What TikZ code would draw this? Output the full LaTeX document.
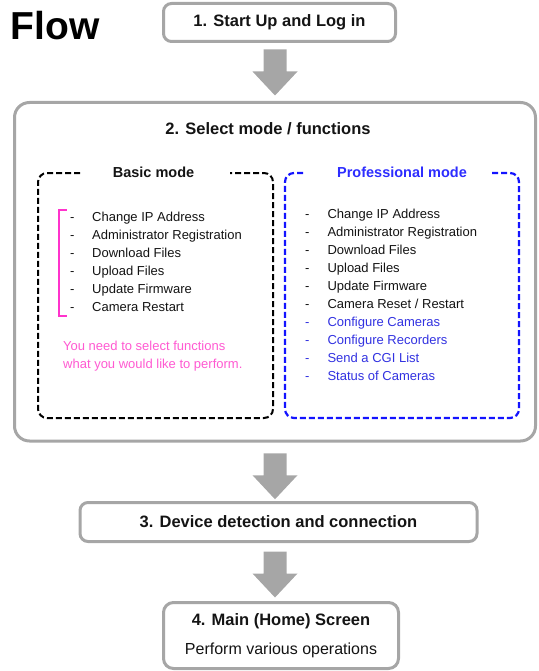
\documentclass[tikz,border=0pt]{standalone}
\usepackage{fontspec}
\setmainfont{Liberation Sans}
\usetikzlibrary{calc}
\definecolor{boxgray}{RGB}{166,166,166}
\definecolor{arrowgray}{RGB}{166,166,166}
\definecolor{probl}{RGB}{20,20,255}
\definecolor{protitle}{RGB}{45,45,255}
\definecolor{blueitem}{RGB}{50,50,225}
\definecolor{magline}{RGB}{255,51,204}
\definecolor{pinktxt}{RGB}{255,90,210}
\definecolor{txt}{RGB}{20,20,20}
\tikzset{
  graybox/.style={draw=boxgray, line width=3pt, rounded corners=8pt, fill=white, inner sep=0pt, text=txt},
  headtxt/.style={font=\bfseries\fontsize{16.5}{20}\selectfont},
  modetitle/.style={anchor=base, inner sep=0pt, font=\bfseries\fontsize{14.5}{17}\selectfont},
  itemtxt/.style={anchor=base west, inner sep=0pt, font=\fontsize{13}{15}\selectfont},
  basicdash/.style={draw=black, line width=2pt, dash pattern=on 6pt off 3pt, rounded corners=9pt},
  prodash/.style={draw=probl, line width=2.2pt, dash pattern=on 6pt off 3pt, rounded corners=9pt},
  pics/downarrow/.style={code={
    \fill[arrowgray] (-11.5,-23) -- (11.5,-23) -- (11.5,-1) -- (22.5,-1) -- (0,23) -- (-22.5,-1) -- (-11.5,-1) -- cycle;}}
}
\begin{document}
\begin{tikzpicture}[x=1pt,y=-1pt]
\useasboundingbox (0,0) rectangle (538,671);

% title
\node[anchor=base west, inner sep=0pt, font=\bfseries\fontsize{39}{42}\selectfont, text=black] (flow) at (10.5,40) {Flow};

% main boxes
\node[graybox, minimum width=232pt, minimum height=38pt, headtxt] (b1) at (279.5,22.5) {1. Start Up and Log in};
\node[graybox, rounded corners=15pt, minimum width=521pt, minimum height=338.5pt] (b2) at (275,271.75) {};
\node[anchor=base, inner sep=0pt, headtxt, text=txt] (t2) at (268,135) {2. Select mode / functions};
\node[graybox, minimum width=397pt, minimum height=39pt, headtxt] (b3) at (278.5,522) {3. Device detection and connection};
\node[graybox, rounded corners=10pt, minimum width=235pt, minimum height=66pt, align=center] (b4) at (281,635.5)
  {{\bfseries\fontsize{16.5}{20}\selectfont 4. Main (Home) Screen}\\[13pt]{\fontsize{16}{19}\selectfont Perform various operations}};

% block arrows
\coordinate (m1) at ($(b1.south)!0.5!(b2.north)$);
\coordinate (m2) at ($(b2.south)!0.5!(b3.north)$);
\coordinate (m3) at ($(b3.south)!0.5!(b4.north)$);
\pic at ([yshift=-0.5pt]b2.north |- m1) {downarrow};
\pic at ([yshift=-4.5pt]b2.south |- m2) {downarrow};
\pic at ([yshift=-2.5pt]b2.south |- m3) {downarrow};

% Basic mode box
\draw[basicdash] (80,173) -- (38,173) -- (38,418) -- (273,418) -- (273,173) -- (230,173);
\node[modetitle, text=txt] (basict) at (153.5,178) {Basic mode};
\foreach \t [count=\i] in {Change IP Address, Administrator Registration, Download Files, Upload Files, Update Firmware, Camera Restart} {
  \node[itemtxt, text=txt] (bd\i) at (70,{221.5+18.04*(\i-1)}) {-};
  \node[itemtxt, text=txt] (bi\i) at (92,{221.5+18.04*(\i-1)}) {\t};
}
\draw[magline, line width=2.5pt] (66.5,210) -- (59,210) -- (59,316) -- (66.5,316);
\node[itemtxt, text=pinktxt] (p1) at (63,350) {You need to select functions};
\node[itemtxt, text=pinktxt] (p2) at (63,368.5) {what you would like to perform.};

% Professional mode box
\draw[prodash] (303,173) -- (285,173) -- (285,418) -- (519,418) -- (519,173) -- (492,173);
\node[modetitle, text=protitle] (prot) at (402,178) {Professional mode};
\foreach \t [count=\i] in {Change IP Address, Administrator Registration, Download Files, Upload Files, Update Firmware, Camera Reset / Restart} {
  \node[itemtxt, text=txt] (pd\i) at (305,{218.3+17.97*(\i-1)}) {-};
  \node[itemtxt, text=txt] (pi\i) at (327.3,{218.3+17.97*(\i-1)}) {\t};
}
\foreach \t [count=\i from 7] in {Configure Cameras, Configure Recorders, Send a CGI List, Status of Cameras} {
  \node[itemtxt, text=blueitem] (pd\i) at (305,{218.3+17.97*(\i-1)}) {-};
  \node[itemtxt, text=blueitem] (pi\i) at (327.3,{218.3+17.97*(\i-1)}) {\t};
}
\end{tikzpicture}
\end{document}
